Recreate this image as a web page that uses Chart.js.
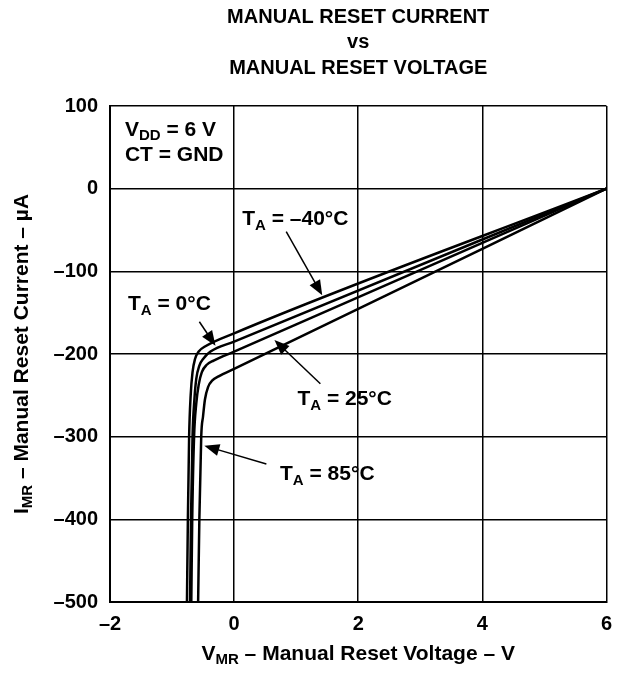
<!DOCTYPE html>
<html>
<head>
<meta charset="utf-8">
<script src="https://cdn.jsdelivr.net/npm/chart.js@4/dist/chart.umd.min.js"></script>
<style>
    html, body { margin: 0; padding: 0; background: #fff; }
    #wrap { width: 622px; height: 673px; }
</style>
</head>
<body>
<div id="wrap"><canvas id="myChart" width="622" height="673"></canvas></div>
<script>
// axis ranges and ticks
const xTicks = [-2, 0, 2, 4, 6];
const yTicks = [100, 0, -100, -200, -300, -400, -500];

// curves: voltage (V) and current (uA)
const vMinus40 = [-0.76, -0.745, -0.725, -0.70, -0.67, -0.63, -0.57, -0.47, 0, 6];
const iMinus40 = [-500, -400, -300, -250, -222, -206, -197, -191, -175, 0];

const vZero = [-0.71, -0.695, -0.67, -0.64, -0.61, -0.56, -0.49, -0.38, 0, 6];
const iZero = [-500, -400, -300, -255, -230, -214, -205, -197, -185, 0];

const v25 = [-0.69, -0.675, -0.645, -0.61, -0.57, -0.52, -0.44, -0.33, 0, 6];
const i25 = [-500, -400, -300, -260, -237, -222, -213, -208, -197, 0];

const v85 = [-0.58, -0.56, -0.53, -0.50, -0.47, -0.42, -0.35, -0.25, 0, 6];
const i85 = [-500, -400, -300, -275, -255, -240, -232, -227, -218, 0];

const FONT = "'Liberation Sans', Arial, Helvetica, sans-serif";

function toPoints(xs, ys) {
    return xs.map((x, i) => ({ x: x, y: ys[i] }));
}

function curve(label, xs, ys) {
    return {
        label: label,
        data: toPoints(xs, ys),
        showLine: true,
        borderColor: "#000",
        borderWidth: 2.5,
        pointRadius: 0,
        cubicInterpolationMode: "monotone",
    };
}

// text labels inside the plot, in data units (left edge, middle of caps)
const notes = [
    { x: -1.76, y: 71, parts: [["V"], ["DD", 1], [" = 6 V"]] },
    { x: -1.76, y: 41, parts: [["CT = GND"]] },
    { x: 0.13, y: -37, parts: [["T"], ["A", 1], [" = \u201340\u00B0C"]] },
    { x: -1.71, y: -140, parts: [["T"], ["A", 1], [" = 0\u00B0C"]] },
    { x: 1.02, y: -255, parts: [["T"], ["A", 1], [" = 25\u00B0C"]] },
    { x: 0.74, y: -346, parts: [["T"], ["A", 1], [" = 85\u00B0C"]] },
];

// arrows: tail -> tip, data units
const arrows = [
    [0.84, -52, 1.42, -129],
    [-0.56, -161, -0.30, -190],
    [1.39, -236, 0.65, -183],
    [0.52, -333, -0.48, -311],
];

function drawRich(ctx, parts, x, y, size, align) {
    const subSize = Math.round(size * 0.7);
    let total = 0;
    parts.forEach((p) => {
        ctx.font = `bold ${p[1] ? subSize : size}px ${FONT}`;
        total += ctx.measureText(p[0]).width;
    });
    let cx = align === "center" ? x - total / 2 : x;
    ctx.textAlign = "left";
    ctx.textBaseline = "middle";
    parts.forEach((p) => {
        ctx.font = `bold ${p[1] ? subSize : size}px ${FONT}`;
        ctx.fillText(p[0], cx, p[1] ? y + size * 0.3 : y);
        cx += ctx.measureText(p[0]).width;
    });
}

function drawArrow(ctx, x1, y1, x2, y2) {
    const ang = Math.atan2(y2 - y1, x2 - x1);
    const len = 15;
    const half = 6;
    ctx.beginPath();
    ctx.moveTo(x1, y1);
    ctx.lineTo(x2 - Math.cos(ang) * len * 0.8, y2 - Math.sin(ang) * len * 0.8);
    ctx.lineWidth = 1.5;
    ctx.stroke();
    ctx.beginPath();
    ctx.moveTo(x2, y2);
    ctx.lineTo(x2 - Math.cos(ang) * len - Math.sin(ang) * half, y2 - Math.sin(ang) * len + Math.cos(ang) * half);
    ctx.lineTo(x2 - Math.cos(ang) * len + Math.sin(ang) * half, y2 - Math.sin(ang) * len - Math.cos(ang) * half);
    ctx.closePath();
    ctx.fill();
}

const decorations = {
    id: "decorations",
    afterDraw(chart) {
        const ctx = chart.ctx;
        const xs = chart.scales.x;
        const ys = chart.scales.y;
        const area = chart.chartArea;
        const midX = (area.left + area.right) / 2;
        const midY = (area.top + area.bottom) / 2;
        ctx.save();
        ctx.fillStyle = "#000";
        ctx.strokeStyle = "#000";

        // title
        drawRich(ctx, [["MANUAL RESET CURRENT"]], midX, 17, 20, "center");
        drawRich(ctx, [["vs"]], midX, 42, 20, "center");
        drawRich(ctx, [["MANUAL RESET VOLTAGE"]], midX, 68, 20, "center");

        // axis titles
        drawRich(ctx, [["V"], ["MR", 1], [" \u2013 Manual Reset Voltage \u2013 V"]], midX, 654, 21, "center");
        ctx.save();
        ctx.translate(22, midY);
        ctx.rotate(-Math.PI / 2);
        drawRich(ctx, [["I"], ["MR", 1], [" \u2013 Manual Reset Current \u2013 \u00B5A"]], 0, 0, 21, "center");
        ctx.restore();

        notes.forEach((n) => {
            drawRich(ctx, n.parts, xs.getPixelForValue(n.x), ys.getPixelForValue(n.y), 21, "left");
        });
        arrows.forEach((a) => {
            drawArrow(ctx, xs.getPixelForValue(a[0]), ys.getPixelForValue(a[1]),
                xs.getPixelForValue(a[2]), ys.getPixelForValue(a[3]));
        });
        ctx.restore();
    },
};

const dash = (v) => String(v).replace("-", "\u2013");

const config = {
    type: "scatter",
    data: {
        datasets: [
            curve("TA = -40C", vMinus40, iMinus40),
            curve("TA = 0C", vZero, iZero),
            curve("TA = 25C", v25, i25),
            curve("TA = 85C", v85, i85),
        ],
    },
    options: {
        responsive: false,
        animation: false,
        layout: { padding: { top: 106, right: 14, left: 0, bottom: 0 } },
        plugins: { legend: { display: false }, tooltip: { enabled: false } },
        scales: {
            x: {
                type: "linear",
                min: xTicks[0],
                max: xTicks[xTicks.length - 1],
                afterBuildTicks: (s) => { s.ticks = xTicks.map((v) => ({ value: v })); },
                afterFit: (s) => { s.height = 71; },
                grid: { color: "#000", lineWidth: 1.5, drawTicks: false },
                border: { color: "#000", width: 2 },
                ticks: {
                    color: "#000",
                    padding: 10,
                    font: { family: FONT, size: 20, weight: "bold" },
                    callback: dash,
                },
            },
            y: {
                type: "linear",
                min: yTicks[yTicks.length - 1],
                max: yTicks[0],
                afterBuildTicks: (s) => { s.ticks = yTicks.map((v) => ({ value: v })); },
                afterFit: (s) => { s.width = 110; },
                grid: { color: "#000", lineWidth: 1.5, drawTicks: false },
                border: { color: "#000", width: 2 },
                ticks: {
                    color: "#000",
                    padding: 12,
                    font: { family: FONT, size: 20, weight: "bold" },
                    callback: dash,
                },
            },
        },
    },
    plugins: [decorations],
};

const myChart = new Chart(document.getElementById("myChart"), config);
</script>
</body>
</html>
